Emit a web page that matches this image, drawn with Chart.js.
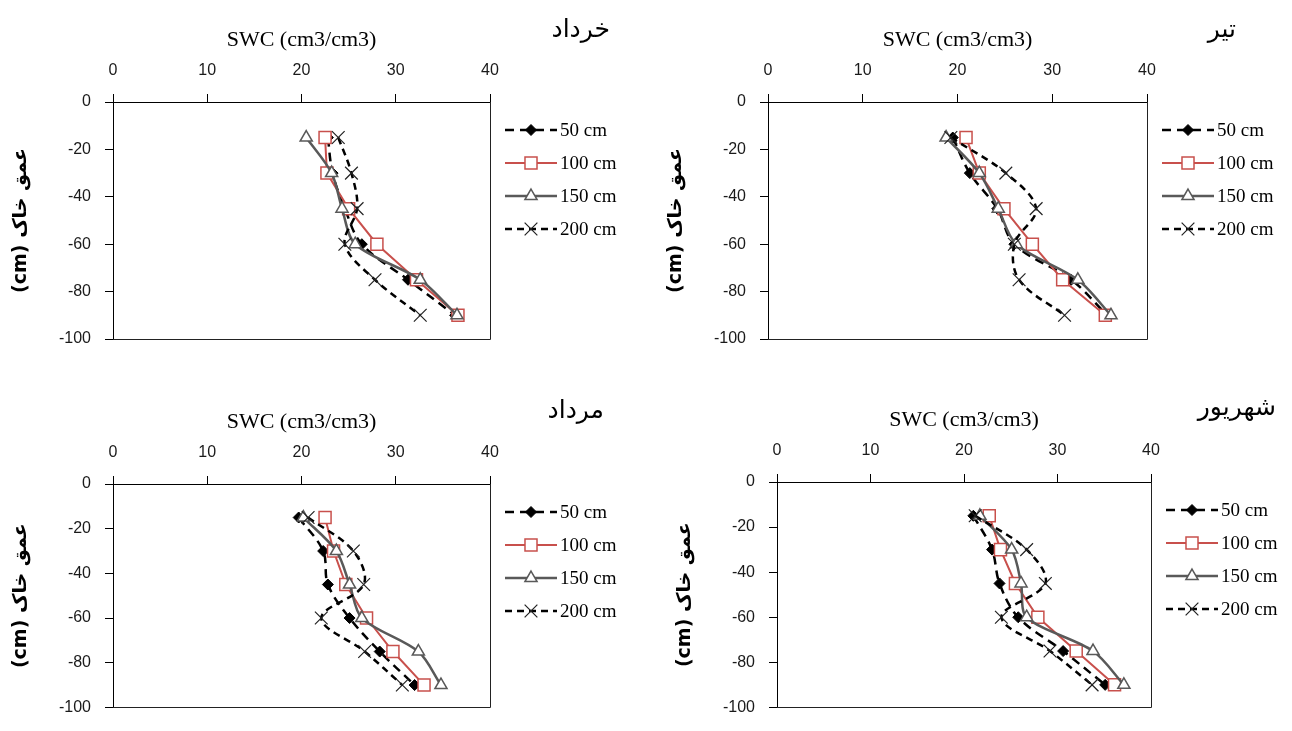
<!DOCTYPE html>
<html>
<head>
<meta charset="utf-8">
<script src="https://cdn.jsdelivr.net/npm/chart.js@4.4.1/dist/chart.umd.min.js"></script>
<style>
  html, body { margin: 0; padding: 0; background: #fff; }
  body { width: 1292px; height: 731px; position: relative; overflow: hidden; }
  canvas { position: absolute; }
</style>
</head>
<body>
<canvas id="c1" width="646" height="365" style="left:0px;top:0px"></canvas>
<canvas id="c2" width="646" height="365" style="left:646px;top:0px"></canvas>
<canvas id="c3" width="646" height="366" style="left:0px;top:365px"></canvas>
<canvas id="c4" width="646" height="366" style="left:646px;top:365px"></canvas>
<script>
// ---------- DATA ----------
const depths = [-15, -30, -45, -60, -75, -90];           // soil depth (cm)
const xTickValues = [0, 10, 20, 30, 40];
const yTickValues = [0, -20, -40, -60, -80, -100];
const seriesLabels = ['50 cm', '100 cm', '150 cm', '200 cm'];
const panelTitles = ['خرداد', 'تیر', 'مرداد', 'شهریور'];
const xAxisTitle = 'SWC (cm3/cm3)';
const yAxisTitle = 'عمق خاک (cm)';

// خرداد
const khordad50  = [22.8, 23.3, 24.6, 26.4, 31.3, 36.3];
const khordad100 = [22.5, 22.7, 25.0, 28.0, 32.2, 36.6];
const khordad150 = [20.5, 23.2, 24.3, 25.7, 32.6, 36.5];
const khordad200 = [23.9, 25.3, 25.9, 24.6, 27.8, 32.6];
// تیر
const tir50  = [19.5, 21.3, 24.2, 26.0, 32.0, 35.8];
const tir100 = [20.9, 22.3, 24.9, 27.9, 31.1, 35.6];
const tir150 = [18.8, 22.3, 24.3, 26.2, 32.7, 36.2];
const tir200 = [19.3, 25.1, 28.3, 26.0, 26.5, 31.3];
// مرداد
const mordad50  = [19.7, 22.3, 22.8, 25.1, 28.3, 32.0];
const mordad100 = [22.5, 23.4, 24.7, 26.9, 29.7, 33.0];
const mordad150 = [20.2, 23.7, 25.1, 26.4, 32.4, 34.8];
const mordad200 = [20.7, 25.5, 26.6, 22.1, 26.7, 30.7];
// شهریور
const shahrivar50  = [21.0, 23.0, 23.8, 25.8, 30.6, 35.1];
const shahrivar100 = [22.7, 23.9, 25.5, 27.9, 32.0, 36.1];
const shahrivar150 = [21.7, 25.1, 26.1, 26.7, 33.8, 37.1];
const shahrivar200 = [21.2, 26.7, 28.7, 24.0, 29.2, 33.7];

const panelSeries = [
  [khordad50, khordad100, khordad150, khordad200],
  [tir50, tir100, tir150, tir200],
  [mordad50, mordad100, mordad150, mordad200],
  [shahrivar50, shahrivar100, shahrivar150, shahrivar200]
];

// ---------- LAYOUT (page px) ----------
const panels = [
  { id: 'c1', cx: 0,   cy: 0,   cw: 646, ch: 365, L: 113, R: 490,  T: 102, B: 339, titleX: 610, titleY: 30 },
  { id: 'c2', cx: 646, cy: 0,   cw: 646, ch: 365, L: 768, R: 1147, T: 102, B: 339, titleX: 590, titleY: 30 },
  { id: 'c3', cx: 0,   cy: 365, cw: 646, ch: 366, L: 113, R: 490,  T: 484, B: 720, titleX: 604, titleY: 46 },
  { id: 'c4', cx: 646, cy: 365, cw: 646, ch: 366, L: 777, R: 1151, T: 482, B: 714, titleX: 630, titleY: 43 }
];

// ---------- STYLES ----------
const styles = [
  { borderColor: '#000000', borderWidth: 2.5, borderDash: [9, 6], tension: 0.35,
    pointStyle: 'rectRot', pointRadius: 5.5, pointBackgroundColor: '#000000', pointBorderColor: '#000000', pointBorderWidth: 1, order: 4 },
  { borderColor: '#C8504C', borderWidth: 2, borderDash: [], tension: 0,
    pointStyle: 'rect', pointRadius: 8.5, pointBackgroundColor: '#ffffff', pointBorderColor: '#C8504C', pointBorderWidth: 1.5, order: 3 },
  { borderColor: '#595959', borderWidth: 2.5, borderDash: [], tension: 0.3,
    pointStyle: 'triangle', pointRadius: 7, pointBackgroundColor: '#ffffff', pointBorderColor: '#595959', pointBorderWidth: 1.5, order: 2 },
  { borderColor: '#000000', borderWidth: 2.5, borderDash: [7, 5], tension: 0.35,
    pointStyle: 'crossRot', pointRadius: 9, pointBackgroundColor: 'transparent', pointBorderColor: '#222222', pointBorderWidth: 1.2, order: 1 }
];

const tickFont = { family: '"Liberation Sans", Arial, sans-serif', size: 16 };
const serif = '"Liberation Serif", "Times New Roman", serif';

const decoPlugin = {
  id: 'deco',
  afterDraw(chart, args, opts) {
    const { ctx, chartArea: a } = chart;
    ctx.save();
    // right & bottom border of plot area
    ctx.strokeStyle = '#222';
    ctx.lineWidth = 1;
    ctx.setLineDash([]);
    const r = Math.round(a.right) + 0.5, b = Math.round(a.bottom) + 0.5;
    ctx.beginPath();
    ctx.moveTo(r, a.top);
    ctx.lineTo(r, b);
    ctx.lineTo(a.left, b);
    ctx.stroke();

    // legend
    chart.data.datasets.forEach((ds, i) => {
      const y = a.top + 28 + 33 * i;
      const x1 = a.right + 15, x2 = a.right + 67;
      ctx.setLineDash(ds.borderDash || []);
      ctx.strokeStyle = ds.borderColor;
      ctx.lineWidth = ds.borderWidth;
      ctx.beginPath();
      ctx.moveTo(x1, y);
      ctx.lineTo(x2, y);
      ctx.stroke();
      ctx.setLineDash([]);
      ctx.fillStyle = ds.pointBackgroundColor;
      ctx.strokeStyle = ds.pointBorderColor;
      ctx.lineWidth = ds.pointBorderWidth;
      Chart.helpers.drawPoint(ctx, {
        pointStyle: ds.pointStyle, radius: ds.pointRadius, rotation: 0, borderWidth: ds.pointBorderWidth
      }, (x1 + x2) / 2, y);
      ctx.fillStyle = '#000';
      ctx.font = '19px ' + serif;
      ctx.textAlign = 'left';
      ctx.textBaseline = 'middle';
      ctx.fillText(ds.label, x2 + 3, y + 1);
    });

    // y-axis title (RTL)
    ctx.save();
    ctx.translate(a.left - 92, (a.top + a.bottom) / 2);
    ctx.rotate(-Math.PI / 2);
    ctx.direction = 'rtl';
    ctx.textAlign = 'center';
    ctx.textBaseline = 'middle';
    ctx.fillStyle = '#000';
    ctx.font = 'bold 19px "DejaVu Sans", "Liberation Sans", sans-serif';
    ctx.fillText(opts.yTitle, 0, 0);
    ctx.restore();

    // panel (month) title
    ctx.direction = 'ltr';
    ctx.textAlign = 'right';
    ctx.textBaseline = 'middle';
    ctx.fillStyle = '#000';
    ctx.font = '25px ' + serif + ', "DejaVu Sans"';
    ctx.fillText(opts.title, opts.titleX, opts.titleY);
    ctx.restore();
  }
};

panels.forEach((p, pi) => {
  const top = p.T - p.cy, left = p.L - p.cx, right = p.R - p.cx, bottom = p.B - p.cy;
  const xScaleH = 79;
  const datasets = panelSeries[pi].map((vals, si) => Object.assign({
    label: seriesLabels[si],
    data: vals.map((v, k) => ({ x: v, y: depths[k] })),
    showLine: true,
    fill: false
  }, styles[si]));

  new Chart(document.getElementById(p.id), {
    type: 'scatter',
    data: { datasets },
    plugins: [decoPlugin],
    options: {
      responsive: false,
      animation: false,
      events: [],
      layout: {
        padding: { left: 0, top: top - xScaleH, right: p.cw - right, bottom: p.ch - bottom }
      },
      plugins: {
        legend: { display: false },
        tooltip: { enabled: false },
        deco: { title: panelTitles[pi], titleX: p.titleX, titleY: p.titleY, yTitle: yAxisTitle }
      },
      scales: {
        x: {
          type: 'linear', position: 'top', min: 0, max: 40,
          afterBuildTicks: s => { s.ticks = xTickValues.map(v => ({ value: v })); },
          afterFit: s => { s.height = xScaleH; },
          ticks: { font: tickFont, color: '#1a1a1a', padding: 14, maxRotation: 0 },
          grid: { drawOnChartArea: false, drawTicks: true, tickLength: 8, color: '#000', lineWidth: 1 },
          border: { display: true, color: '#000', width: 1 },
          title: { display: true, text: xAxisTitle, color: '#000', font: { family: serif, size: 22 }, padding: { top: 4, bottom: 4 } }
        },
        y: {
          type: 'linear', position: 'left', min: -100, max: 0,
          afterBuildTicks: s => { s.ticks = yTickValues.map(v => ({ value: v })); },
          afterFit: s => { s.width = left; },
          ticks: { font: tickFont, color: '#1a1a1a', padding: 14 },
          grid: { drawOnChartArea: false, drawTicks: true, tickLength: 8, color: '#000', lineWidth: 1 },
          border: { display: true, color: '#000', width: 1 }
        }
      }
    }
  });
});
</script>
</body>
</html>
